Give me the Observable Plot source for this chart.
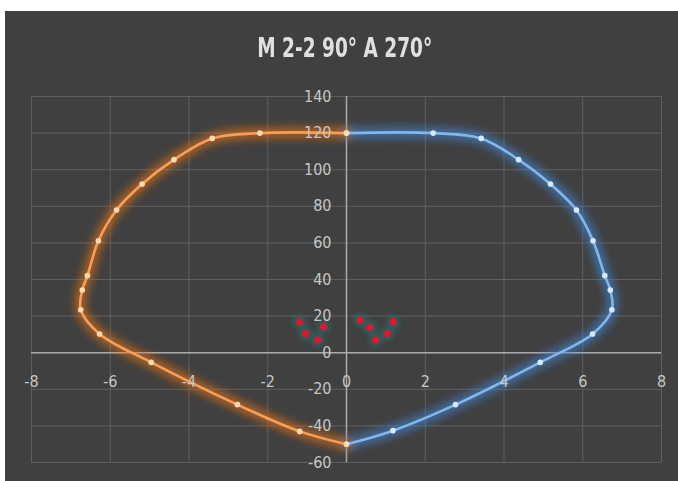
<!DOCTYPE html>
<html>
<head>
<meta charset="utf-8">
<script src="https://cdn.jsdelivr.net/npm/d3@7"></script>
<script src="https://cdn.jsdelivr.net/npm/@observablehq/plot@0.6"></script>
<style>
  html, body { margin: 0; padding: 0; background: #ffffff; }
  #wrap { position: absolute; left: 5px; top: 11px; width: 673px; height: 470px; background: #404040; overflow: hidden; }
  #title { position: absolute; left: 0; top: 22px; width: 680px; text-align: center; font-family: 'DejaVu Sans Condensed', 'Liberation Sans Narrow', sans-serif; font-size: 27px; line-height: 30px; font-weight: bold; color: #e0e0e0; white-space: nowrap; }
  #title span { display: inline-block; transform-origin: 50% 50%; }
  #chart { position: absolute; left: 0; top: 59px; }
</style>
</head>
<body>
<svg width="0" height="0" style="position:absolute">
  <defs>
    <filter id="blur" x="-20%" y="-20%" width="140%" height="140%">
      <feGaussianBlur stdDeviation="4.5"/>
    </filter>
    <filter id="blurSmall" x="-50%" y="-50%" width="200%" height="200%">
      <feGaussianBlur stdDeviation="2.5"/>
    </filter>
  </defs>
</svg>
<div id="wrap">
  <div id="title"><span></span></div>
  <div id="chart"></div>
</div>
<script>
const titleText = "M 2-2 90° A 270°";

const blueX = [0, 2.2, 3.42, 4.37, 5.18, 5.84, 6.26, 6.56, 6.7, 6.74, 6.25, 4.92, 2.77, 1.18, 0];
const blueY = [120, 120, 117.1, 105.5, 92.2, 78, 61.2, 42.1, 34.3, 23.5, 10.2, -5.3, -28.4, -42.6, -50];

const orangeX = [0, -2.2, -3.41, -4.38, -5.19, -5.84, -6.3, -6.58, -6.71, -6.75, -6.27, -4.96, -2.77, -1.19, 0];
const orangeY = [120, 120, 117.1, 105.5, 92.2, 78, 61.2, 42.1, 34.3, 23.5, 10.2, -5.3, -28.4, -43, -50];

const redX = [-1.19, -1.04, -0.73, -0.58, 0.35, 0.59, 0.74, 1.04, 1.19];
const redY = [16.8, 10.3, 7.0, 14.2, 17.8, 13.8, 7.0, 10.4, 16.9];

const xTicks = [-8, -6, -4, -2, 0, 2, 4, 6, 8];
const yTicks = [-60, -40, -20, 0, 20, 40, 60, 80, 100, 120, 140];

const titleSpan = document.querySelector("#title span");
titleSpan.textContent = titleText;
const tw = titleSpan.getBoundingClientRect().width;
if (tw > 0) titleSpan.style.transform = `scaleX(${175 / tw})`;

const blue = blueX.map((x, i) => ({x, y: blueY[i]}));
const orange = orangeX.map((x, i) => ({x, y: orangeY[i]}));
const red = redX.map((x, i) => ({x, y: redY[i]}));

const font = "'DejaVu Sans Condensed', 'Liberation Sans Narrow', sans-serif";

const plot = Plot.plot({
  width: 673,
  height: 411,
  marginLeft: 26,
  marginRight: 17,
  marginTop: 26,
  marginBottom: 19,
  x: {domain: [-8, 8], axis: null},
  y: {domain: [-60, 140], axis: null},
  style: {background: "transparent", fontFamily: font, overflow: "visible"},
  marks: [
    Plot.ruleX(xTicks, {stroke: "#5e5e5e", strokeWidth: 1}),
    Plot.ruleY(yTicks, {stroke: "#5e5e5e", strokeWidth: 1}),
    Plot.ruleY([0], {stroke: "#ababab", strokeWidth: 1.5}),
    Plot.ruleX([0], {stroke: "#ababab", strokeWidth: 1.5}),
    // glow lines
    Plot.line(blue, {x: "x", y: "y", curve: "catmull-rom", stroke: "#3f8ae0", strokeWidth: 11, strokeOpacity: 0.6}),
    Plot.line(orange, {x: "x", y: "y", curve: "catmull-rom", stroke: "#f07410", strokeWidth: 11, strokeOpacity: 0.6}),
    // red dot glow
    Plot.dot(red, {x: "x", y: "y", r: 7, fill: "#2e6a66", fillOpacity: 0.7}),
    // core lines
    Plot.line(blue, {x: "x", y: "y", curve: "catmull-rom", stroke: "#82b7ec", strokeWidth: 2.6}),
    Plot.line(orange, {x: "x", y: "y", curve: "catmull-rom", stroke: "#f7a055", strokeWidth: 2.6}),
    Plot.dot(blue, {x: "x", y: "y", r: 2.8, fill: "#d6eaff"}),
    Plot.dot(orange, {x: "x", y: "y", r: 2.8, fill: "#ffd9b0"}),
    Plot.dot(red, {x: "x", y: "y", r: 3.5, fill: "#e3162e"}),
    // tick labels
    Plot.text(yTicks, {x: 0, y: d => d, text: d => String(d), textAnchor: "end", dx: -15, fill: "#c6c6c6", fontSize: 16}),
    Plot.text(xTicks, {x: d => d, y: 0, text: d => String(d), dy: 29, fill: "#c6c6c6", fontSize: 16})
  ]
});

document.getElementById("chart").appendChild(plot);

// soft glow: blur the wide halo layers
const lineGroups = plot.querySelectorAll('g[aria-label="line"]');
if (lineGroups[0]) lineGroups[0].setAttribute("filter", "url(#blur)");
if (lineGroups[1]) lineGroups[1].setAttribute("filter", "url(#blur)");
const dotGroups = plot.querySelectorAll('g[aria-label="dot"]');
if (dotGroups[0]) dotGroups[0].setAttribute("filter", "url(#blurSmall)");
</script>
</body>
</html>
